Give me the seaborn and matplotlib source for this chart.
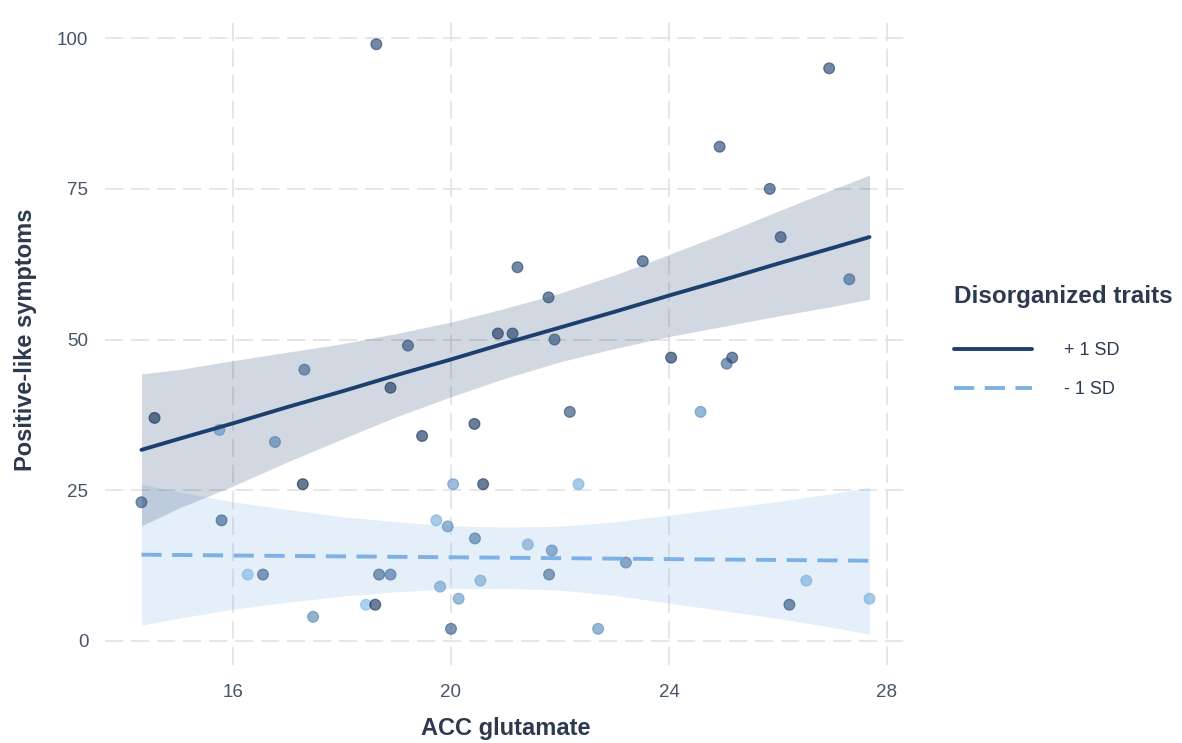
import numpy as np
import pandas as pd
import matplotlib
matplotlib.use("Agg")
import matplotlib.pyplot as plt
import seaborn as sns
from matplotlib.colors import LinearSegmentedColormap

# ---- observed points ----
acc_glutamate = [14.56, 14.32, 15.75, 16.77, 17.31, 17.28, 15.79, 16.27, 16.55, 17.47,
                 18.44, 18.61, 18.68, 18.89, 18.89, 19.21, 19.47, 19.73, 19.94, 19.80,
                 20.04, 20.00, 20.14,
                 20.86, 21.13, 21.90, 24.04, 25.06, 25.16, 22.18, 24.58, 20.43, 20.59,
                 22.34, 20.44, 21.41, 21.85, 23.21, 21.80, 20.54, 22.70,
                 26.94, 24.93, 25.85, 26.05, 23.52, 27.31,
                 26.52, 26.21, 27.68,
                 18.63, 21.22, 21.79]
positive_sym = [37, 23, 35, 33, 45, 26, 20, 11, 11, 4,
                6, 6, 11, 11, 42, 49, 34, 20, 19, 9,
                26, 2, 7,
                51, 51, 50, 47, 46, 47, 38, 38, 36, 26,
                26, 17, 16, 15, 13, 11, 10, 2,
                95, 82, 75, 67, 63, 60,
                10, 6, 7,
                99, 62, 57]
disorg_shade = [0.95, 0.70, 0.35, 0.45, 0.60, 0.95, 0.65, 0.10, 0.60, 0.40,
                0.10, 0.90, 0.60, 0.55, 0.90, 0.75, 0.90, 0.15, 0.35, 0.25,
                0.30, 0.65, 0.30,
                0.90, 0.85, 0.75, 0.90, 0.60, 0.80, 0.75, 0.35, 0.90, 0.90,
                0.15, 0.50, 0.20, 0.40, 0.45, 0.55, 0.20, 0.35,
                0.80, 0.80, 0.80, 0.80, 0.80, 0.60,
                0.15, 0.70, 0.15,
                0.80, 0.80, 0.80]

# ---- simple-slope predictions with confidence bands ----
fit_x = [14.32, 15, 16, 17, 18, 19, 20, 21, 22, 23, 24, 25, 26, 27, 27.68]
plus_fit = [31.7, 33.5, 36.1, 38.8, 41.4, 44.1, 46.7, 49.4, 52.0, 54.6, 57.3, 59.9, 62.6, 65.2, 67.0]
plus_lower = [19.1, 22.0, 25.7, 29.7, 33.5, 37.2, 40.5, 43.6, 46.3, 48.5, 50.5, 52.2, 53.9, 55.5, 56.7]
plus_upper = [44.3, 45.0, 46.5, 47.9, 49.3, 51.0, 52.9, 55.2, 57.7, 60.7, 64.1, 67.6, 71.3, 74.9, 77.3]
minus_fit = [14.3, 14.25, 14.17, 14.1, 14.02, 13.95, 13.87, 13.8, 13.72, 13.65, 13.57, 13.5, 13.42, 13.35, 13.3]
minus_lower = [2.6, 3.75, 5.27, 6.4, 7.42, 8.15, 8.67, 8.7, 8.42, 7.55, 6.27, 5.0, 3.72, 2.25, 1.1]
minus_upper = [26.0, 24.75, 23.07, 21.8, 20.62, 19.75, 19.07, 18.9, 19.02, 19.75, 20.87, 22.0, 23.12, 24.45, 25.5]

levels = ["+ 1 SD", "- 1 SD"]
x_ticks = [16, 20, 24, 28]
y_ticks = [0, 25, 50, 75, 100]

dark = "#1D3F6E"
light = "#7DB1E5"
text_col = "#2C3A4F"
tick_col = "#485567"

sns.set_theme(style="white")
plt.rcParams["font.family"] = ["Liberation Sans", "DejaVu Sans"]

fig = plt.figure(figsize=(11.82, 7.43), dpi=100)
ax = fig.add_axes([0.0888, 0.105, 0.6777, 0.8748])

# ribbons
ax.fill_between(fit_x, minus_lower, minus_upper, color=light, alpha=0.2, linewidth=0, zorder=1)
ax.fill_between(fit_x, plus_lower, plus_upper, color=dark, alpha=0.2, linewidth=0, zorder=1)

# points
pts = pd.DataFrame({"x": acc_glutamate, "y": positive_sym, "d": disorg_shade})
cmap = LinearSegmentedColormap.from_list("blues", ["#8CC6F7", "#0F2A52"])
sns.scatterplot(data=pts, x="x", y="y", hue="d", palette=cmap, hue_norm=(0, 1),
                s=60, alpha=0.65, linewidth=0.9, legend=False, ax=ax, zorder=3)
coll = ax.collections[-1]
coll.set_edgecolors(coll.get_facecolors())

# lines
lines = pd.DataFrame({
    "x": fit_x * 2,
    "y": plus_fit + minus_fit,
    "level": [levels[0]] * len(fit_x) + [levels[1]] * len(fit_x),
})
sns.lineplot(data=lines[lines.level == levels[0]], x="x", y="y", color=dark,
             linewidth=2.8, ax=ax, label=levels[0], zorder=4)
sns.lineplot(data=lines[lines.level == levels[1]], x="x", y="y", color=light,
             linewidth=2.8, linestyle=(0, (5.2, 2.7)), ax=ax, label=levels[1], zorder=4)

ax.set_xlim(13.65, 28.35)
ax.set_ylim(-4.0, 103.85)
ax.set_xticks(x_ticks)
ax.set_yticks(y_ticks)
ax.set_xticklabels([str(t) for t in x_ticks])
ax.set_yticklabels([str(t) for t in y_ticks])
ax.tick_params(axis="both", length=0, labelsize=13.5, colors=tick_col)
ax.tick_params(axis="y", pad=12)
ax.tick_params(axis="x", pad=14)
ax.grid(True, color="#E2E2E2", linestyle=(0, (11, 4.6)), linewidth=1.2, zorder=0)
ax.set_axisbelow(True)
for sp in ax.spines.values():
    sp.set_visible(False)

ax.set_xlabel("ACC glutamate", fontsize=17, fontweight="bold", color=text_col, labelpad=11)
ax.set_ylabel("Positive-like symptoms", fontsize=17, fontweight="bold", color=text_col, labelpad=14)

leg = ax.legend(loc="upper left", bbox_to_anchor=(0.807, 0.617), bbox_transform=fig.transFigure,
                frameon=False, title="Disorganized traits", fontsize=13,
                title_fontproperties={"size": 17.5, "weight": "bold"},
                handlelength=4.3, handletextpad=1.8, labelspacing=1.2,
                borderpad=0, borderaxespad=0)
leg._legend_box.align = "left"
leg._legend_box.sep = 25
leg.get_title().set_color(text_col)
for t in leg.get_texts():
    t.set_color(text_col)

fig.savefig("out.png", dpi=100)
